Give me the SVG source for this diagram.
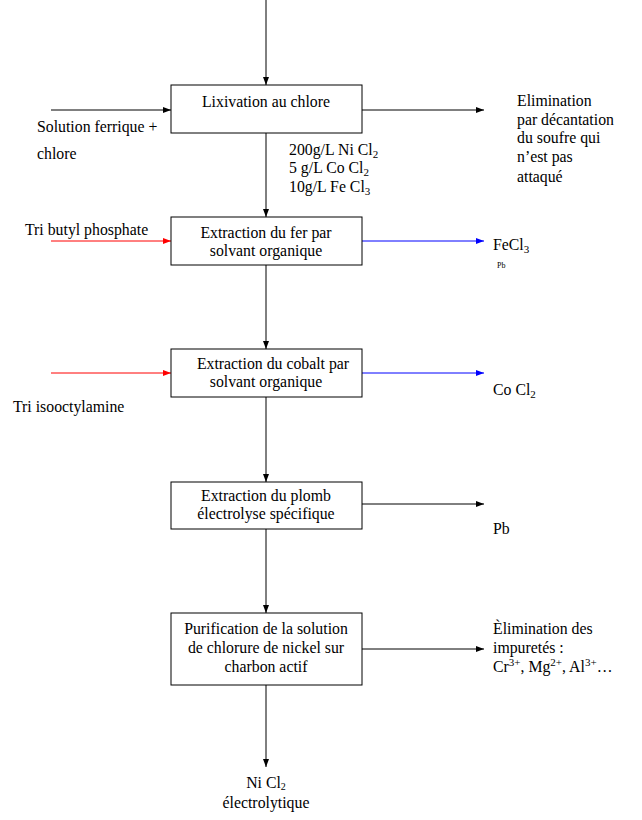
<svg xmlns="http://www.w3.org/2000/svg" width="642" height="820" viewBox="0 0 642 820">
<style>
text{font-family:"Liberation Serif","Times New Roman",serif;font-size:15.8px;fill:#000}
.c{text-anchor:middle}
.box{fill:#fff;stroke:#000;stroke-width:1}
.k{stroke:#000;stroke-width:1;fill:none}
.r{stroke:#ff0000;stroke-width:1;fill:none}
.b{stroke:#0000ff;stroke-width:1;fill:none}
.s{font-size:11px}
</style>
<defs>
<marker id="ak" markerWidth="8" markerHeight="6" refX="8" refY="3" orient="auto" markerUnits="userSpaceOnUse"><path d="M0,0 L8,3 L0,6 Z" fill="#000"/></marker>
<marker id="ar" markerWidth="8" markerHeight="6" refX="8" refY="3" orient="auto" markerUnits="userSpaceOnUse"><path d="M0,0 L8,3 L0,6 Z" fill="#ff0000"/></marker>
<marker id="ab" markerWidth="8" markerHeight="6" refX="8" refY="3" orient="auto" markerUnits="userSpaceOnUse"><path d="M0,0 L8,3 L0,6 Z" fill="#0000ff"/></marker>
</defs>
<g id="connectors">
<line class="k" x1="266" y1="0" x2="266" y2="85" marker-end="url(#ak)"/>
<line class="k" x1="51" y1="110" x2="171" y2="110" marker-end="url(#ak)"/>
<line class="k" x1="362" y1="110" x2="484" y2="110" marker-end="url(#ak)"/>
<line class="k" x1="266" y1="133" x2="266" y2="217" marker-end="url(#ak)"/>
<line class="r" x1="51" y1="241" x2="171" y2="241" marker-end="url(#ar)"/>
<line class="b" x1="362" y1="241" x2="484" y2="241" marker-end="url(#ab)"/>
<line class="k" x1="266" y1="265" x2="266" y2="349" marker-end="url(#ak)"/>
<line class="r" x1="51" y1="373" x2="171" y2="373" marker-end="url(#ar)"/>
<line class="b" x1="362" y1="373" x2="484" y2="373" marker-end="url(#ab)"/>
<line class="k" x1="266" y1="397" x2="266" y2="482" marker-end="url(#ak)"/>
<line class="k" x1="362" y1="504" x2="484" y2="504" marker-end="url(#ak)"/>
<line class="k" x1="266" y1="529" x2="266" y2="613" marker-end="url(#ak)"/>
<line class="k" x1="362" y1="649" x2="484" y2="649" marker-end="url(#ak)"/>
<line class="k" x1="266" y1="685" x2="266" y2="767" marker-end="url(#ak)"/>
</g>
<g id="n1">
<rect class="box" x="171" y="85" width="191" height="48"/>
<text class="c" x="266" y="107">Lixivation au chlore</text>
</g>
<g id="n2">
<rect class="box" x="171" y="217" width="191" height="48"/>
<text class="c" x="266" y="238">Extraction du fer par</text>
<text class="c" x="266" y="256">solvant organique</text>
</g>
<g id="n3">
<rect class="box" x="171" y="349" width="191" height="48"/>
<text class="c" x="273" y="369">Extraction du cobalt par</text>
<text class="c" x="266" y="387">solvant organique</text>
</g>
<g id="n4">
<rect class="box" x="171" y="482" width="191" height="47"/>
<text class="c" x="266" y="501">Extraction du plomb</text>
<text class="c" x="266" y="519">électrolyse spécifique</text>
</g>
<g id="n5">
<rect class="box" x="171" y="613" width="191" height="72"/>
<text class="c" x="266" y="634">Purification de la solution</text>
<text class="c" x="266" y="653">de chlorure de nickel sur</text>
<text class="c" x="266" y="672">charbon actif</text>
</g>
<g id="labels">
<text x="37" y="132">Solution ferrique +</text>
<text x="37" y="159">chlore</text>
<text x="517" y="106">Elimination</text>
<text x="517" y="125">par décantation</text>
<text x="517" y="143">du soufre qui</text>
<text x="517" y="162">n’est pas</text>
<text x="517" y="182">attaqué</text>
<text x="289" y="155">200g/L Ni Cl<tspan class="s" dy="3">2</tspan></text>
<text x="289" y="173">5 g/L Co Cl<tspan class="s" dy="3">2</tspan></text>
<text x="289" y="192">10g/L Fe Cl<tspan class="s" dy="3">3</tspan></text>
<text x="25" y="235">Tri butyl phosphate</text>
<text x="493" y="250">FeCl<tspan class="s" dy="3">3</tspan></text>
<text x="497" y="268" style="font-size:8px">Pb</text>
<text x="13" y="412">Tri isooctylamine</text>
<text x="493" y="395">Co Cl<tspan class="s" dy="3">2</tspan></text>
<text x="493" y="534">Pb</text>
<text x="493" y="634">Èlimination des</text>
<text x="493" y="653">impuretés :</text>
<text x="493" y="672">Cr<tspan class="s" dy="-6">3+</tspan><tspan dy="6">, Mg</tspan><tspan class="s" dy="-6">2+</tspan><tspan dy="6">, Al</tspan><tspan class="s" dy="-6">3+</tspan><tspan dy="6">…</tspan></text>
<text class="c" x="266" y="788">Ni Cl<tspan style="font-size:10px" dy="2">2</tspan></text>
<text class="c" x="266" y="808">électrolytique</text>
</g>
</svg>
